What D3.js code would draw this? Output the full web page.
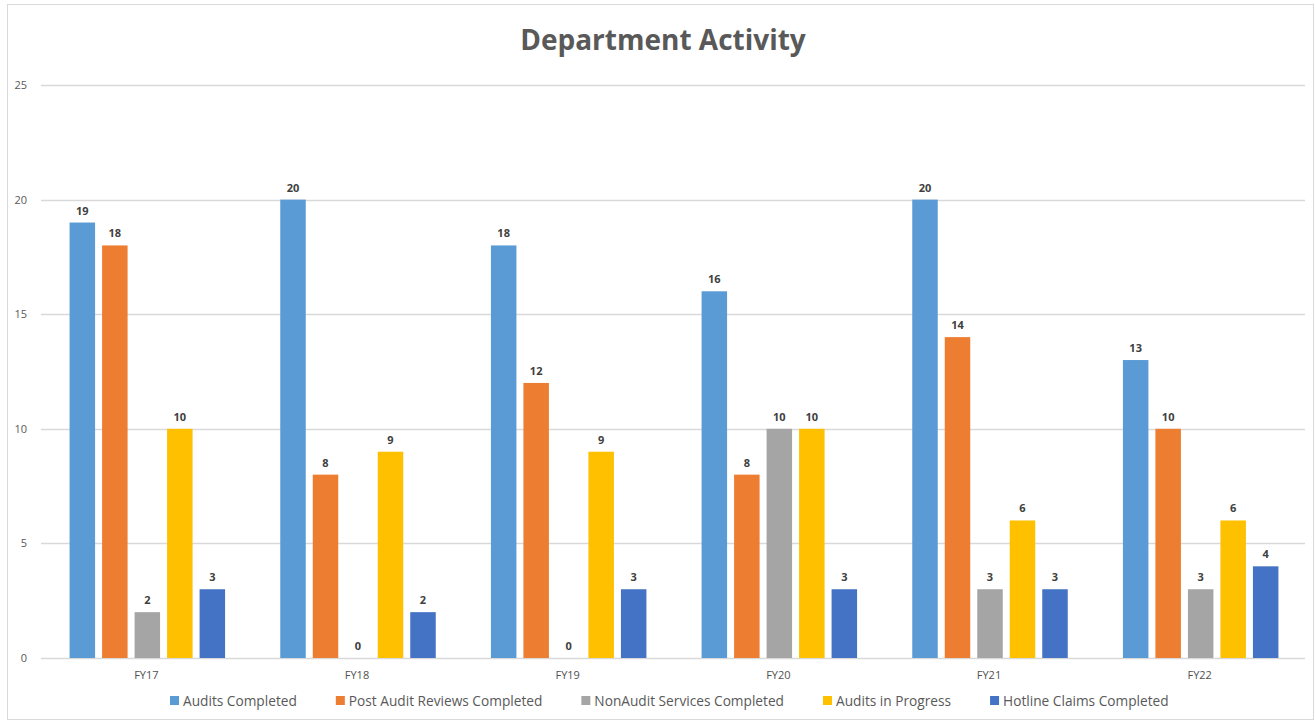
<!DOCTYPE html>
<html>
<head>
<meta charset="utf-8">
<title>Department Activity</title>
<script src="https://d3js.org/d3.v7.min.js"></script>
<style>
  body { margin: 0; background: #fff; }
  svg text { font-family: "Open Sans", "Noto Sans", sans-serif; }
</style>
</head>
<body>
<div id="chart"></div>
<script>
// Data
const years = ["FY17", "FY18", "FY19", "FY20", "FY21", "FY22"]
const seriesNames = ["Audits Completed", "Post Audit Reviews Completed", "NonAudit Services Completed", "Audits in Progress", "Hotline Claims Completed"]
const auditsCompleted = [19, 20, 18, 16, 20, 13]
const postAuditReviews = [18, 8, 12, 8, 14, 10]
const nonAuditServices = [2, 0, 0, 10, 3, 3]
const auditsInProgress = [10, 9, 9, 10, 6, 6]
const hotlineClaims = [3, 2, 3, 3, 3, 4]
const yTicks = [0, 5, 10, 15, 20, 25]
const colors = ["#5B9BD5", "#ED7D31", "#A5A5A5", "#FFC000", "#4472C4"]

const allSeries = [auditsCompleted, postAuditReviews, nonAuditServices, auditsInProgress, hotlineClaims]

const w = 1315
const h = 723
const plotLeft = 41, plotRight = 1305, plotTop = 85, plotBottom = 658

const svg = d3.select("#chart").append("svg")
    .attr("width", w)
    .attr("height", h)

// outer border
svg.append("rect")
    .attr("x", 7.5).attr("y", 4.5)
    .attr("width", w - 9).attr("height", h - 8)
    .attr("fill", "#fff")
    .attr("stroke", "#d9d9d9")

// Title
svg.append("text")
    .attr("x", 663)
    .attr("y", 50)
    .attr("text-anchor", "middle")
    .attr("font-size", 28)
    .attr("font-weight", "bold")
    .attr("fill", "#595959")
    .text("Department Activity")

// Scales
const yScale = d3.scaleLinear().domain([0, 25]).range([plotBottom, plotTop])
const xScale = d3.scaleBand().domain(years).range([plotLeft, plotRight])
// 5 bars, ~25.5px wide, 32.5px apart
const groupWidth = 4 * 32.5 + 25.5
const inner = d3.scaleBand().domain(d3.range(5))
    .range([0, groupWidth]).paddingInner(7 / 32.5).paddingOuter(0)

// Gridlines
svg.append("g")
    .selectAll("line")
    .data(yTicks)
    .join("line")
    .attr("x1", plotLeft).attr("x2", plotRight)
    .attr("y1", d => Math.round(yScale(d)) + 0.5)
    .attr("y2", d => Math.round(yScale(d)) + 0.5)
    .attr("stroke", "#d9d9d9")
    .attr("stroke-width", 1.3)

// Y axis labels
svg.append("g")
    .selectAll("text")
    .data(yTicks)
    .join("text")
    .attr("x", 27)
    .attr("y", d => yScale(d) + 4)
    .attr("text-anchor", "end")
    .attr("font-size", 11)
    .attr("fill", "#595959")
    .text(d => d)

// Bars
const groups = svg.append("g")
    .selectAll("g")
    .data(years)
    .join("g")
    .attr("transform", d => `translate(${xScale(d) + xScale.bandwidth() / 2 - groupWidth / 2 + 1},0)`)

groups.each(function(year, yi) {
    const g = d3.select(this)
    allSeries.forEach((vals, si) => {
        const v = vals[yi]
        g.append("rect")
            .attr("x", inner(si))
            .attr("y", yScale(v))
            .attr("width", inner.bandwidth())
            .attr("height", yScale(0) - yScale(v))
            .attr("fill", colors[si])
        g.append("text")
            .attr("x", inner(si) + inner.bandwidth() / 2)
            .attr("y", yScale(v) - 8)
            .attr("text-anchor", "middle")
            .attr("font-size", 11)
            .attr("font-weight", "bold")
            .attr("fill", "#404040")
            .text(v)
    })
})

// X axis labels
svg.append("g")
    .selectAll("text")
    .data(years)
    .join("text")
    .attr("x", d => xScale(d) + xScale.bandwidth() / 2)
    .attr("y", 679)
    .attr("text-anchor", "middle")
    .attr("font-size", 11)
    .attr("fill", "#505050")
    .text(d => d)

// Legend
const legend = svg.append("g")
let lx = 170
seriesNames.forEach((name, i) => {
    legend.append("rect")
        .attr("x", lx).attr("y", 696)
        .attr("width", 9).attr("height", 9)
        .attr("fill", colors[i])
    const t = legend.append("text")
        .attr("x", lx + 13)
        .attr("y", 706)
        .attr("font-size", 13.7)
        .attr("fill", "#595959")
        .text(name)
    lx += 13 + t.node().getComputedTextLength() + 39
})
</script>
</body>
</html>
